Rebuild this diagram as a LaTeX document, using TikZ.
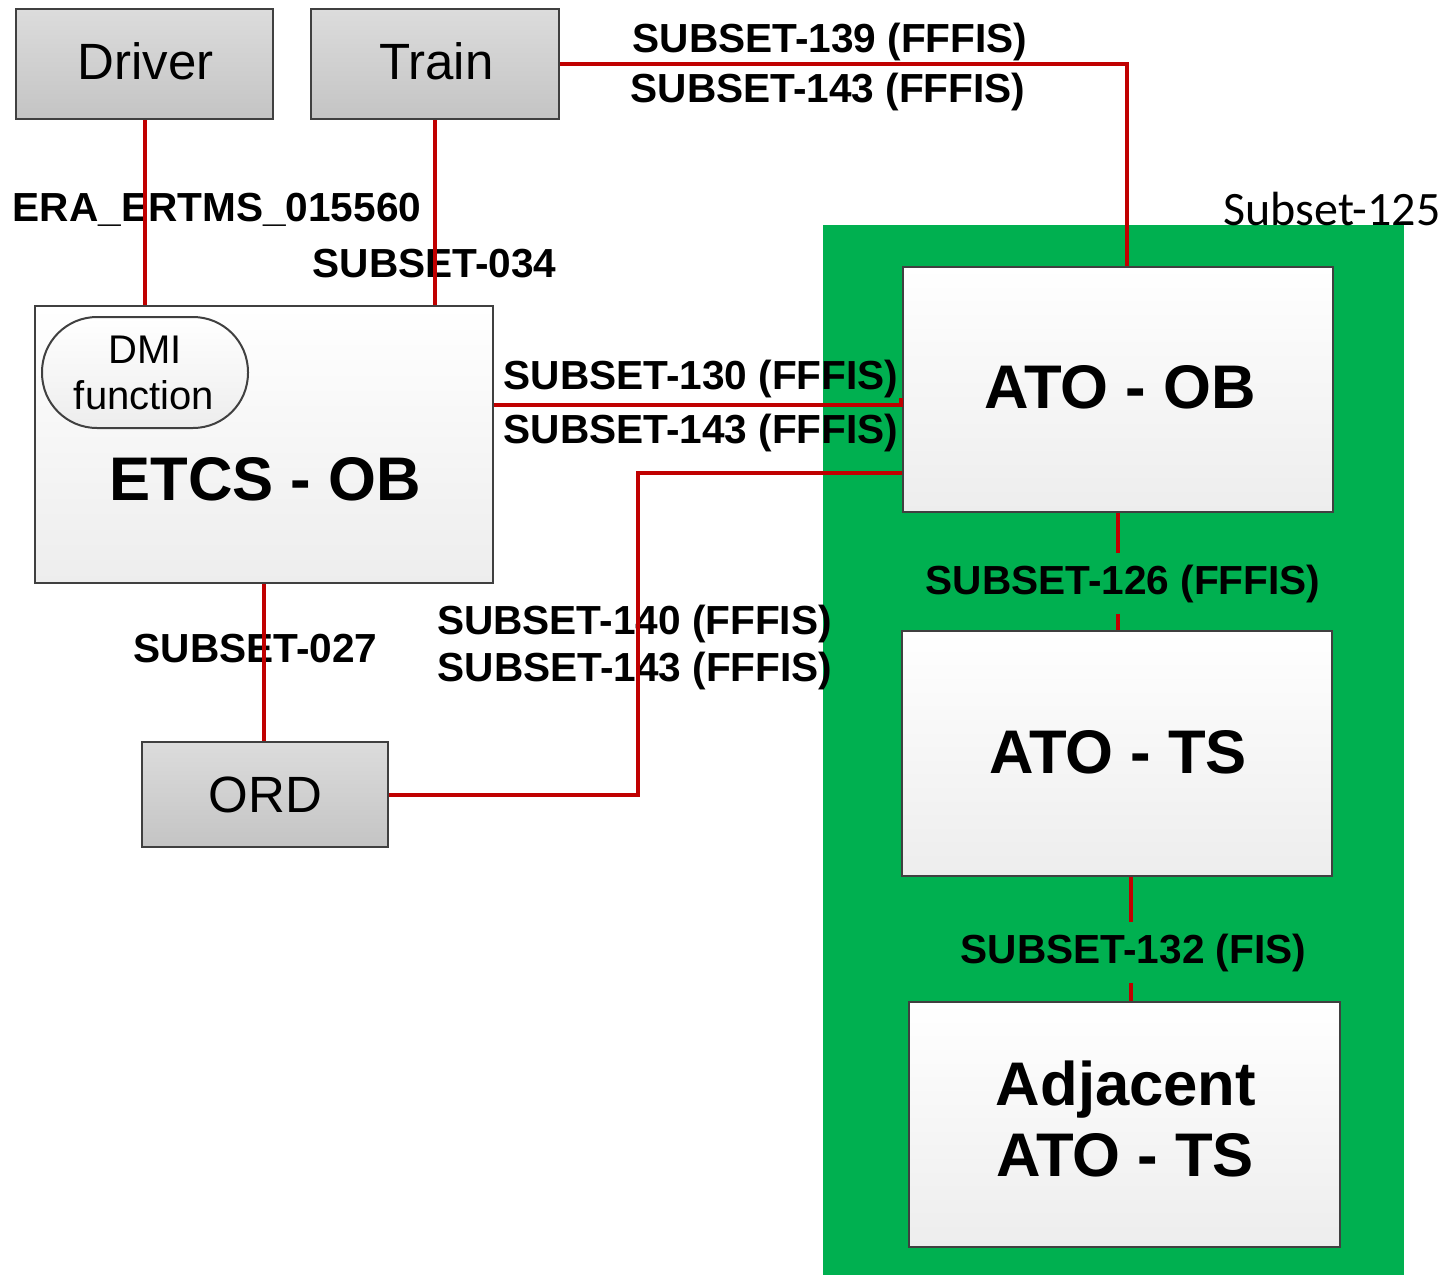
\documentclass[tikz,border=0pt]{standalone}
\usepackage{fontspec}
\setmainfont{Liberation Sans}
\newfontfamily\carlito{Carlito}
\definecolor{ored}{HTML}{C00000}
\definecolor{ogreen}{HTML}{00B050}
\definecolor{bord}{HTML}{404040}
\definecolor{gtop}{HTML}{DCDCDC}
\definecolor{gbot}{HTML}{C4C4C4}
\definecolor{wtop}{HTML}{FFFFFF}
\definecolor{wbot}{HTML}{EDEDED}
\begin{document}
\begin{tikzpicture}[x=0.5pt,y=-0.5pt,
  graybox/.style={draw=bord,line width=1pt,top color=gtop,bottom color=gbot,inner sep=0pt},
  whitebox/.style={draw=bord,line width=1pt,top color=wtop,bottom color=wbot,inner sep=0pt},
  redline/.style={draw=ored,line width=2pt},
  lbl/.style={anchor=base,inner sep=0pt,font=\fontsize{20.3}{23}\selectfont\bfseries},
  glbl/.style={lbl,fill=ogreen,inner xsep=2pt,inner ysep=6pt},
  big/.style={anchor=base,inner sep=0pt,font=\fontsize{30.8}{35}\selectfont\bfseries},
  mid/.style={anchor=base,inner sep=0pt,font=\fontsize{25.5}{30}\selectfont},
  small/.style={anchor=base,inner sep=0pt,font=\fontsize{20}{23}\selectfont}]
\useasboundingbox (0,0) rectangle (1453,1275);
% Subset-125 area
\fill[ogreen] (823,225) rectangle (1404,1275);
\node[anchor=base east,inner sep=0pt,font=\carlito\fontsize{24}{28}\selectfont] (s125) at (1441,225) {Subset-125};
% boxes
\node[graybox,minimum width=128.5pt,minimum height=55pt] (driver) at (144.5,64) {};
\node[graybox,minimum width=124pt,minimum height=55pt] (train) at (435,64) {};
\node[whitebox,minimum width=229pt,minimum height=138.5pt] (etcs) at (264,444.5) {};
\node[whitebox,rounded corners=27.5pt,minimum width=103pt,minimum height=55.5pt] (dmi) at (145,372.5) {};
\node[graybox,minimum width=123pt,minimum height=52.5pt] (ord) at (265,794.5) {};
\node[whitebox,minimum width=215pt,minimum height=122.5pt] (atoob) at (1118,389.5) {};
\node[whitebox,minimum width=215pt,minimum height=122.5pt] (atots) at (1117,753.5) {};
\node[whitebox,minimum width=215.5pt,minimum height=122.5pt] (adj) at (1124.5,1124.5) {};
% box texts
\node[mid] (driverT) at (145.5,79) {Driver};
\node[mid] (trainT) at (436.5,79) {Train};
\node[mid] (ordT) at (265.5,812) {ORD};
\node[small] (dmiT1) at (145,363) {DMI};
\node[small] (dmiT2) at (144,409) {function};
\node[big] (etcsT) at (265,500) {ETCS - OB};
\node[big] (atoobT) at (1120,408) {ATO - OB};
\node[big] (atotsT) at (1118,773) {ATO - TS};
\node[big] (adjT1) at (1126,1105) {Adjacent};
\node[big] (adjT2) at (1125,1176) {ATO - TS};
% labels
\node[lbl] (l139) at (830,52) {SUBSET-139 (FFFIS)};
\node[lbl] (l143a) at (828,102) {SUBSET-143 (FFFIS)};
\node[lbl] (lera) at (217,221) {ERA\_ERTMS\_015560};
\node[lbl] (l034) at (434.5,277) {SUBSET-034};
\node[lbl] (l130) at (701,389) {SUBSET-130 (FFFIS)};
\node[lbl] (l143b) at (701,443) {SUBSET-143 (FFFIS)};
\node[lbl] (l140) at (634.5,634) {SUBSET-140 (FFFIS)};
\node[lbl] (l143c) at (635,681) {SUBSET-143 (FFFIS)};
\node[lbl] (l027) at (255.5,662) {SUBSET-027};
% connectors
\coordinate (tx) at (1127,64);
\draw[redline] (train.east) -- (tx) -- (tx |- atoob.north);
\draw[redline] (driver.south) -- (driver.south |- etcs.north);
\draw[redline] (train.south) -- (train.south |- etcs.north);
\draw[redline] (etcs.south) -- (etcs.south |- ord.north);
\coordinate (y130) at (0,405);
\coordinate (j130) at (901,398);
\draw[redline] (etcs.east |- y130) -- (j130 |- y130) -- (j130);
\coordinate (bend) at (638,473);
\draw[redline] (ord.east) -| (bend) -- (atoob.west |- bend);
\draw[redline] (atoob.south) -- (atoob.south |- atots.north);
\coordinate (x132) at (1131,0);
\draw[redline] (x132 |- atots.south) -- (x132 |- adj.north);
% labels on green
\node[glbl] (l126) at (1123,594) {SUBSET-126 (FFFIS)};
\node[glbl] (l132) at (1133.5,963) {SUBSET-132 (FIS)};
\end{tikzpicture}
\end{document}
